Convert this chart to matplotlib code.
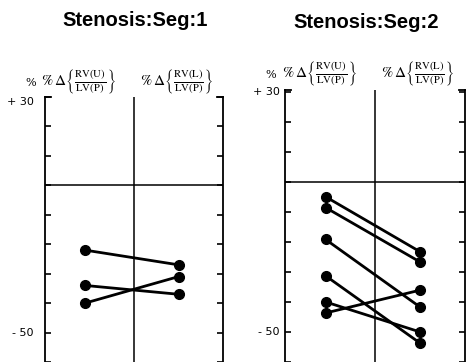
import matplotlib.pyplot as plt

plt.rcParams['mathtext.fontset'] = 'stix'

# data (percent change)
titles = ['Stenosis:Seg:1', 'Stenosis:Seg:2']
col_labels = [r'$\%\,\Delta\left\{\frac{\mathrm{RV(U)}}{\mathrm{LV(P)}}\right\}$',
              r'$\%\,\Delta\left\{\frac{\mathrm{RV(L)}}{\mathrm{LV(P)}}\right\}$']
seg1_upper = [-22, -34, -40]
seg1_lower = [-27, -37, -31]
seg2_upper = [-5, -8.6, -19.2, -31.3, -40, -43.7]
seg2_lower = [-23.3, -26.7, -41.7, -53.7, -50, -36.1]
tick_values = [30, -50]
tick_texts = ['+ 30', '- 50']
ytops = [28.3, 30.5]

fig = plt.figure(figsize=(4.66, 3.62), dpi=100)
W, H = 466, 362


def panel(left_px, right_px, top_px, ytop, up, lo, title, title_xy, label_y, label_gap):
    ax = fig.add_axes([left_px / W, 0, (right_px - left_px) / W, (H - top_px) / H])
    ax.set_xlim(0, 2)
    ax.set_ylim(-60, ytop)
    for s in ['top', 'bottom']:
        ax.spines[s].set_visible(False)
    for s in ['left', 'right']:
        ax.spines[s].set_linewidth(1.3)
    ax.set_xticks([])
    ax.set_yticks(range(-60, 31, 10))
    ax.set_yticklabels([])
    ax.tick_params(axis='y', direction='in', length=4, width=1.2, left=True, right=True)
    ax.axhline(0, color='black', lw=1.1)
    ax.axvline(1, color='black', lw=1.1)
    # little caps at the top of the side lines
    ax.plot([0, 0.035], [1, 1], color='black', lw=1.3, transform=ax.transAxes, clip_on=False)
    ax.plot([0.965, 1], [1, 1], color='black', lw=1.3, transform=ax.transAxes, clip_on=False)
    for a, b in zip(up, lo):
        ax.plot([0.45, 1.5], [a, b], color='black', lw=2, marker='o', ms=7, clip_on=False)
    fig.text(title_xy[0] / W, 1 - title_xy[1] / H, title, ha='center', va='center',
             fontsize=14.5, fontweight='bold', family='Liberation Sans')
    cx = [left_px + (right_px - left_px) * 0.19, left_px + (right_px - left_px) * 0.74]
    for x, lab in zip(cx, col_labels):
        fig.text(x / W, 1 - label_y / H, lab, ha='center', va='center', fontsize=11)
    fig.text((left_px - 14) / W, 1 - (label_y + 1) / H, '%', ha='center', va='center',
             fontsize=8, family='DejaVu Serif')
    for v, t in zip(tick_values, tick_texts):
        yv = min(v, ytop)
        ax.annotate(t, (0, yv), xycoords=ax.get_yaxis_transform(),
                    xytext=(-label_gap, 0), textcoords='offset points',
                    ha='right', va='center', fontsize=8, family='DejaVu Sans')
    return ax


panel(45, 223, 97, ytops[0], seg1_upper, seg1_lower, titles[0], (135, 20), 82, 8)
panel(285, 465, 90, ytops[1], seg2_upper, seg2_lower, titles[1], (366, 22), 74, 4)

fig.savefig('out.png', dpi=100)
